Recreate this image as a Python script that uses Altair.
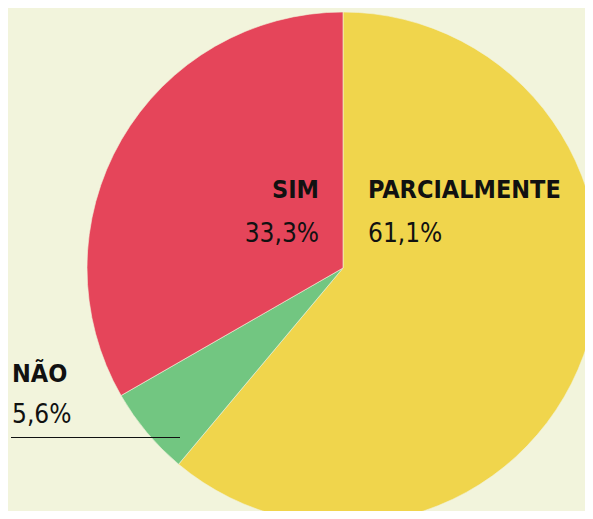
import altair as alt
import pandas as pd

categories = ["PARCIALMENTE", "NÃO", "SIM"]
values = [61.1, 5.6, 33.3]
colors = ["#f0d54c", "#72c681", "#e5455a"]

df = pd.DataFrame({"cat": categories, "val": values, "order": list(range(len(categories)))})

FONT = "Liberation Sans Narrow, DejaVu Sans Condensed, sans-serif"
BG = "#f2f4dc"

pie = alt.Chart(df).mark_arc(outerRadius=256, stroke=BG, strokeWidth=0.6).encode(
    theta=alt.Theta("val:Q", stack=True),
    order=alt.Order("order:Q"),
    color=alt.Color("cat:N", scale=alt.Scale(domain=categories, range=colors), legend=None),
    x=alt.value(335),
    y=alt.value(260),
)

def pct(v):
    return f"{v:.1f}".replace(".", ",") + "%"

# label placement (style): (x, y_name, y_pct, align)
placement = {
    "SIM": (311, 190, 234, "right"),
    "PARCIALMENTE": (360, 190, 234, "left"),
    "NÃO": (4, 374, 415, "left"),
}

layers = [pie]
for c, v in zip(categories, values):
    x, yn, yp, al = placement[c]
    d = pd.DataFrame({"name": [c], "pct": [pct(v)]})
    layers.append(alt.Chart(d).mark_text(x=x, y=yn, align=al, baseline="alphabetic",
                                         font=FONT, fontSize=25, fontWeight="bold",
                                         color="#111111").encode(text="name:N"))
    layers.append(alt.Chart(d).mark_text(x=x, y=yp, align=al, baseline="alphabetic",
                                         font=FONT, fontSize=26, fontWeight="normal",
                                         color="#111111").encode(text="pct:N"))

rule = alt.Chart(pd.DataFrame({"a": [0]})).mark_rule(color="#111111", strokeWidth=1).encode(
    x=alt.value(3), x2=alt.value(172), y=alt.value(429.5)
)
layers.append(rule)

chart = alt.layer(*layers).properties(
    width=577, height=503, background=BG, padding=0,
    autosize=alt.AutoSizeParams(type="none"),
).configure_view(stroke=None)

chart.save("out.html", embed_options={"renderer": "svg", "actions": False})
